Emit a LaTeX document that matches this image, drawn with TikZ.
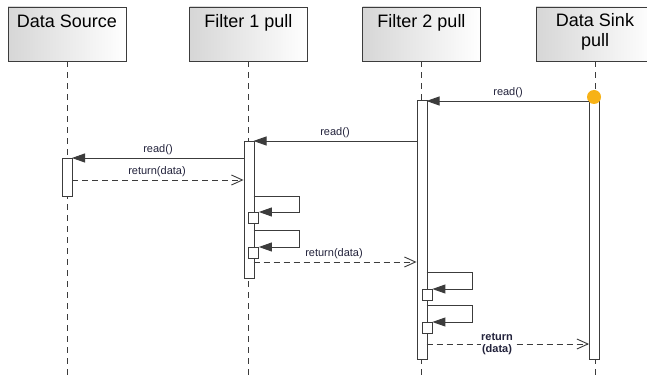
\documentclass[tikz,border=0pt]{standalone}
\usepackage{fontspec}
\setmainfont{Liberation Sans}
\usetikzlibrary{arrows.meta}
\definecolor{labelc}{RGB}{35,35,60}
\definecolor{linec}{RGB}{60,60,60}
\definecolor{dotc}{RGB}{247,178,22}
\begin{document}
\begin{tikzpicture}[x=1pt,y=-1pt,
  headbox/.style={draw=linec, left color=black!16, right color=white, minimum width=118pt, minimum height=54pt, inner sep=0pt, line width=0.9pt},
  headtxt/.style={font=\fontsize{18}{20}\selectfont, anchor=base, align=center, inner sep=0pt},
  lifeline/.style={draw=linec, dash pattern=on 6pt off 5pt, line width=0.9pt},
  actbar/.style={draw=linec, fill=white, line width=0.9pt, inner sep=0pt, minimum width=10pt, anchor=north west},
  smallbox/.style={draw=linec, fill=white, line width=0.9pt, inner sep=0pt, minimum width=10pt, minimum height=11pt, anchor=north west},
  msg/.style={draw=linec, line width=0.9pt, -{Triangle[length=13pt,width=9pt]}},
  ret/.style={draw=linec, line width=0.9pt, dash pattern=on 6pt off 4pt, -{Straight Barb[length=11pt,width=10pt]}},
  lbl/.style={font=\fontsize{11}{13}\selectfont, text=labelc, anchor=base, inner sep=0pt}
]
\useasboundingbox (0,0) rectangle (647,379);
\clip (0,0) rectangle (647,379);
\fill[white] (0,0) rectangle (647,379);

% header boxes
\node[headbox] (hsrc) at (67,34) {};
\node[headbox] (hf1) at (248.5,34) {};
\node[headbox] (hf2) at (421.5,34) {};
\node[headbox] (hsnk) at (595,34) {};
\node[headtxt] (tsrc) at (67,28) {Data Source};
\node[headtxt] (tf1) at (248.5,28) {Filter 1 pull};
\node[headtxt] (tf2) at (421.5,28) {Filter 2 pull};
\node[headtxt, anchor=north] (tsnk) at (595,13) {Data Sink\\pull};

% lifelines
\coordinate (esrc) at (67,379);
\coordinate (ef1) at (248.5,379);
\coordinate (ef2) at (421.5,379);
\coordinate (esnk) at (595,379);
\draw[lifeline] (hsrc.south) -- (esrc);
\draw[lifeline] (hf1.south) -- (ef1);
\draw[lifeline] (hf2.south) -- (ef2);
\draw[lifeline] (hsnk.south) -- (esnk);

% activation bars
\node[actbar, minimum height=38pt] (bsrc) at (62,158) {};
\node[actbar, minimum height=137pt] (bf1) at (243.5,141) {};
\node[actbar, minimum height=259pt] (bf2) at (416.5,100) {};
\node[actbar, minimum height=259pt] (bsnk) at (589,100) {};

% start dot
\node[circle, fill=dotc, minimum size=14pt, inner sep=0pt] (dot) at (594,97) {};

% read() sink -> filter 2
\coordinate (m1a) at (589,101);
\coordinate (m1b) at (426.5,101);
\draw[msg] (m1a) -- (m1b);
\node[lbl] (l1) at (508,96) {read()};

% read() filter 2 -> filter 1
\coordinate (m2a) at (416.5,141);
\coordinate (m2b) at (253.5,141);
\draw[msg] (m2a) -- (m2b);
\node[lbl] (l2) at (335,136) {read()};

% read() filter 1 -> source
\coordinate (m3a) at (243.5,158);
\coordinate (m3b) at (72,158);
\draw[msg] (m3a) -- (m3b);
\node[lbl] (l3) at (158,153) {read()};

% return(data) source -> filter 1
\coordinate (m4a) at (72,180);
\coordinate (m4b) at (243.5,180);
\draw[ret] (m4a) -- (m4b);
\node[lbl] (l4) at (157,174.5) {return(data)};

% filter 1 self calls
\node[smallbox] (s1) at (248,212) {};
\node[smallbox] (s2) at (248,247) {};
\coordinate (c1a) at (253.5,196);
\coordinate (c1b) at (299,196);
\coordinate (c1c) at (299,212);
\draw[msg] (c1a) -- (c1b) -- (c1c) -- (s1.north east);
\coordinate (c2a) at (253.5,230);
\coordinate (c2b) at (299,230);
\coordinate (c2c) at (299,247);
\draw[msg] (c2a) -- (c2b) -- (c2c) -- (s2.north east);

% return(data) filter 1 -> filter 2
\coordinate (m5a) at (253.5,262);
\coordinate (m5b) at (416.5,262);
\draw[ret] (m5a) -- (m5b);
\node[lbl] (l5) at (334,256.5) {return(data)};

% filter 2 self calls
\node[smallbox] (s3) at (421.5,289) {};
\node[smallbox] (s4) at (421.5,322) {};
\coordinate (c3a) at (426.5,272);
\coordinate (c3b) at (472,272);
\coordinate (c3c) at (472,289);
\draw[msg] (c3a) -- (c3b) -- (c3c) -- (s3.north east);
\coordinate (c4a) at (426.5,305);
\coordinate (c4b) at (472,305);
\coordinate (c4c) at (472,322);
\draw[msg] (c4a) -- (c4b) -- (c4c) -- (s4.north east);

% return (data) filter 2 -> sink
\coordinate (m6a) at (426.5,344);
\coordinate (m6b) at (589,344);
\draw[ret] (m6a) -- (m6b);
\node[font=\bfseries\fontsize{11}{12.5}\selectfont, text=labelc, fill=white, inner sep=0.5pt, align=center] (l6) at (497,344) {return\\(data)};
\end{tikzpicture}
\end{document}
